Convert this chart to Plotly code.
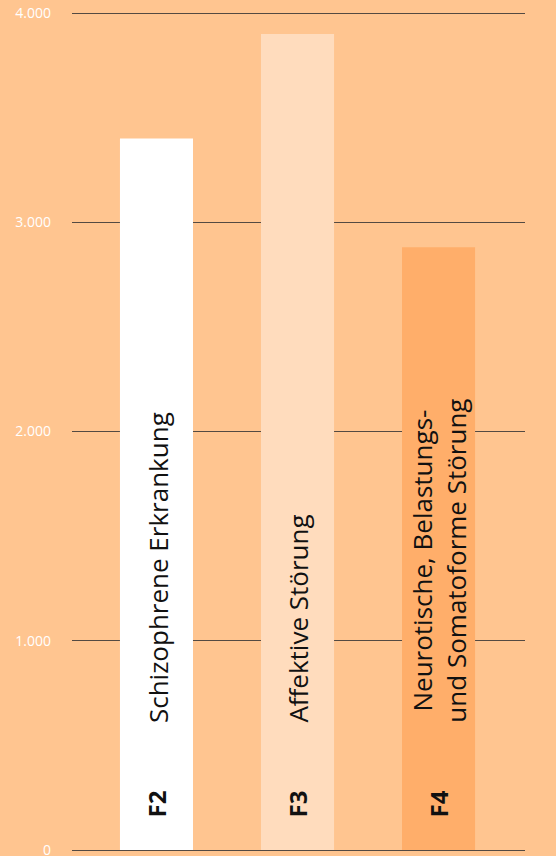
import plotly.graph_objects as go

codes = ["F2", "F3", "F4"]
labels = ["Schizophrene Erkrankung", "Affektive Störung",
          "Neurotische, Belastungs-<br>und Somatoforme Störung"]
values = [3400, 3900, 2880]
bar_colors = ["#FFFFFF", "#FFDCBD", "#FFAE6A"]
tick_vals = [0, 1000, 2000, 3000, 4000]
tick_text = ["0", "1.000", "2.000", "3.000", "4.000"]

BG = "#FFC590"
FONT = "Open Sans"

x = list(range(len(codes)))
fig = go.Figure(go.Bar(x=x, y=values, marker=dict(color=bar_colors, line=dict(width=0)),
                       width=0.518, hoverinfo="skip"))

for i, (c, lab) in enumerate(zip(codes, labels)):
    fig.add_annotation(x=i, y=597, text=lab, textangle=-90, showarrow=False,
                       xanchor="center", yanchor="bottom", xshift=1,
                       font=dict(family=FONT, size=26, color="#111111"))
    fig.add_annotation(x=i, y=220, text="<b>" + c + "</b>", textangle=-90, showarrow=False,
                       xanchor="center", yanchor="middle",
                       font=dict(family=FONT, size=24, color="#111111"))

fig.update_layout(
    width=556, height=856,
    margin=dict(l=72, r=31, t=10, b=3, autoexpand=False),
    paper_bgcolor=BG, plot_bgcolor=BG,
    showlegend=False,
    xaxis=dict(range=[-0.599, 2.613], showgrid=False, zeroline=False,
               showticklabels=False, fixedrange=True, automargin=False),
    yaxis=dict(range=[-14.34, 4014.34], tickvals=tick_vals, ticktext=tick_text,
               showgrid=True, gridcolor="#544A42", gridwidth=1,
               zeroline=False, ticks="", ticklabelstandoff=20,
               ticklabeloverflow="allow", automargin=False,
               tickfont=dict(family=FONT, size=14, color="#FFFFFF")),
)

fig.write_html("out.html")
